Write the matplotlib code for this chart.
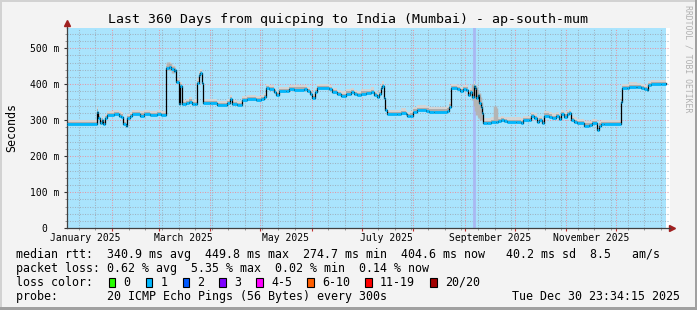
import numpy as np
import matplotlib
matplotlib.use("Agg")
import matplotlib.pyplot as plt
import matplotlib.dates as mdates
from matplotlib.patches import Rectangle
from datetime import datetime

# -----------------------------
# DATA
# -----------------------------
start = datetime(2025, 1, 4, 23, 34, 15)
end = datetime(2025, 12, 30, 23, 34, 15)

# days since start, median rtt in ms
rtt_days = [0, 17.8, 18.8, 19.8, 20.9, 21.8, 22.8, 24.2, 28.0, 31.3, 32.6, 33.5, 35.3, 36.1,
            37.7, 39.2, 43.9, 46.5, 49.9, 54.1, 56.5, 59.5, 61.3, 62.7, 64.3, 65.2, 65.8,
            67.3, 68.2, 68.9, 71.5, 73.3, 75.1, 76.9, 78.1, 79.3, 80.2, 81.1, 82.0, 85.9,
            90.0, 96.3, 97.8, 99.3, 102.3, 105.3, 108.4, 113.4, 116.4, 118.4, 119.8, 121.4,
            124.4, 125.6, 127.4, 131.4, 133.4, 136.4, 142.4, 144.4, 146.0, 147.4, 149.0,
            150.4, 157.5, 159.4, 162.1, 164.5, 167.5, 170.5, 172.5, 174.5, 176.5, 179.5,
            182.5, 184.5, 186.1, 187.5, 188.9, 189.5, 190.5, 191.1, 192.1, 198.5, 200.5,
            203.5, 204.5, 206.1, 208.1, 210.5, 215.6, 217.5, 220.6, 228.5, 229.6, 230.6,
            234.6, 236.2, 238.2, 239.6, 241.0, 242.2, 243.6, 244.6, 245.2, 246.0, 247.0,
            247.8, 248.6, 249.6, 250.2, 252.6, 254.6, 257.6, 259.0, 260.6, 262.6, 264.6,
            269.7, 272.7, 274.3, 277.6, 279.0, 280.6, 282.3, 283.7, 285.6, 286.7, 289.7,
            291.7, 293.7, 295.7, 297.1, 298.7, 300.7, 301.7, 302.7, 304.7, 306.7, 310.7,
            313.7, 315.7, 318.7, 319.7, 321.1, 322.7, 333.1, 333.7, 336.7, 337.7, 341.8,
            342.7, 344.8, 346.8, 348.4, 349.2, 350.8, 356.8, 359.8, 360.0]
rtt_median = [289, 324, 306, 292, 300, 290, 305, 315, 316, 313, 310, 290, 283, 306,
              312, 316, 313, 317, 314, 317, 315, 444, 449, 442, 438, 440, 405,
              344, 395, 345, 348, 352, 345, 346, 404, 426, 430, 404, 348, 347,
              341, 347, 359, 344, 342, 356, 358, 356, 358, 365, 389, 386,
              378, 370, 381, 381, 387, 385, 386, 380, 372, 361, 378,
              389, 387, 378, 372, 368, 374, 378, 372, 370, 374, 375,
              379, 370, 364, 372, 389, 396, 361, 329, 317, 317, 321,
              317, 312, 313, 324, 329, 327, 324, 324, 327, 338, 389,
              387, 380, 386, 385, 370, 378, 364, 396, 389, 361, 370,
              347, 338, 319, 293, 293, 296, 296, 298, 300, 297, 296,
              296, 293, 301, 301, 312, 307, 296, 301, 292, 313, 310,
              307, 312, 304, 317, 310, 317, 319, 301, 296, 292, 285,
              287, 292, 272, 285, 289, 290, 352, 389, 389, 393, 393,
              391, 389, 386, 384, 398, 400, 400, 404, 404]

# wider smoke spots
smoke_days = [60.5, 62.0, 64.0, 244.2, 245.0, 245.8, 246.6, 247.4, 248.2, 249.0, 257.4, 257.9]
smoke_lo = [440, 440, 432, 355, 340, 325, 315, 310, 305, 300, 296, 296]
smoke_hi = [462, 460, 452, 400, 398, 392, 385, 375, 365, 350, 340, 335]

month_labels = ["January 2025", "March 2025", "May 2025", "July 2025",
                "September 2025", "November 2025"]
label_months = [1, 3, 5, 7, 9, 11]

rtt_stats = [340.9, 449.8, 274.7, 404.6, 40.2]
am_s = 8.5
loss_stats = [0.62, 5.35, 0.02, 0.14]
loss_labels = ["0", "1", "2", "3", "4-5", "6-10", "11-19", "20/20"]
loss_colors = ["#26ff00", "#00b8ff", "#0059ff", "#7e00ff", "#ff00ff",
               "#ff5e00", "#ff0000", "#a10000"]

title = "Last 360 Days from quicping to India (Mumbai) - ap-south-mum"
MONO = "DejaVu Sans Mono"

# -----------------------------
# FIGURE
# -----------------------------
W, H = 697, 310
fig = plt.figure(figsize=(W / 100, H / 100), dpi=100, facecolor="#f3f3f3")

ax = fig.add_axes([67 / W, (H - 228.3) / H, (670 - 67) / W, (228.3 - 27.7) / H])
ax.set_facecolor("white")
x0 = mdates.date2num(start)
x1 = mdates.date2num(end)
ax.set_xlim(x0, x1 + 2.4)
ax.set_ylim(0, 557)
ax.axvspan(x0, x1, color="#aae4fd", lw=0, zorder=0.1)

# grid
month_starts = mdates.date2num([datetime(2025, m, 1) for m in range(2, 13)])
ax.set_xticks(month_starts)
ax.set_xticks(np.arange(mdates.date2num(datetime(2025, 1, 12)), x1, 10), minor=True)
ax.set_xticklabels([])
# rrdtool pads the unit-less zero label with blanks
ax.set_yticks(range(0, 501, 100), ["0  "] + [f"{v} m" for v in range(100, 501, 100)])
ax.set_yticks([v for v in range(20, 557, 20) if v % 100], minor=True)
ax.grid(which="major", color="#e29aa8", ls=(0, (1, 1.4)), lw=0.75)
ax.grid(which="minor", color="#9fb3c2", ls=(0, (1, 1.4)), lw=0.75)
ax.set_axisbelow(True)

ax.tick_params(axis="x", which="major", color="#c03030", length=2.2, width=0.8)
ax.tick_params(axis="x", which="minor", color="#999999", length=1.5, width=0.7)
ax.tick_params(axis="y", which="major", color="#333333", length=2.2, width=0.8,
               pad=3.2, labelsize=7.06)
ax.tick_params(axis="y", which="minor", color="#999999", length=1.5, width=0.7)
for lab in ax.get_yticklabels():
    lab.set_family(MONO)

for s in ["top", "right"]:
    ax.spines[s].set_visible(False)
for s in ["left", "bottom"]:
    ax.spines[s].set_color("#404040")
    ax.spines[s].set_linewidth(0.9)

# axis arrows
ax.plot([0, 0], [1, 1.02], transform=ax.transAxes, clip_on=False, color="#404040", lw=0.9)
ax.plot(0, 1.024, marker="^", ms=4, color="#a02020", transform=ax.transAxes, clip_on=False)
ax.plot(1.004, 0, marker=">", ms=4, color="#a02020", transform=ax.transAxes, clip_on=False)

for m, t in zip(label_months, month_labels):
    ax.text(mdates.date2num(datetime(2025, m, 16)), -0.047, t,
            transform=ax.get_xaxis_transform(), ha="center", va="center",
            fontsize=7.06, family=MONO)

# highlighted day
ax.axvline(x0 + 244.6, color="#a9b8f2", lw=2.0, zorder=0.6)

# smoke + median
xd = x0 + np.array(rtt_days)
md = np.array(rtt_median, dtype=float)
ax.fill_between(xd, md - 4, md + 12, step="post", color="#d4d4d4", lw=0, zorder=2)
ax.fill_between(xd, md - 2, md + 6, step="post", color="#acacac", lw=0, zorder=2.1)
ax.vlines(x0 + np.array(smoke_days), smoke_lo, smoke_hi, color="#b4b4b4", lw=2.5, zorder=2)
ax.step(xd, md, where="post", color="black", lw=0.9, zorder=3)
ax.hlines(md[:-1], xd[:-1], xd[1:], color="#00b8ff", lw=2.0, zorder=4)

# -----------------------------
# TEXT OVERLAY
# -----------------------------
ov = fig.add_axes([0, 0, 1, 1], facecolor="none")
ov.set_xlim(0, W)
ov.set_ylim(H, 0)
ov.axis("off")

# frame
ov.add_patch(Rectangle((0, 0), W, 2, color="#d2d2d2", lw=0))
ov.add_patch(Rectangle((0, 0), 2, H, color="#d2d2d2", lw=0))
ov.add_patch(Rectangle((0, H - 3), W, 3, color="#a0a0a0", lw=0))
ov.add_patch(Rectangle((W - 2, 0), 2, H, color="#a0a0a0", lw=0))

ov.text(347.5, 19, title, ha="center", va="center", fontsize=9.57, family=MONO)
ov.text(12, 127, "Seconds", rotation=90, ha="center", va="center", fontsize=8.4, family=MONO)
ov.text(688, 5, "RRDTOOL / TOBI OETIKER", rotation=270, ha="center", va="top",
        fontsize=5.9, family=MONO, color="#b0b0b0")

a, mx, mn, now, sd = rtt_stats
row1 = (f"median rtt:  {a:.1f} ms avg  {mx:.1f} ms max  {mn:.1f} ms min  "
        f"{now:.1f} ms now  {sd:5.1f} ms sd  {am_s:.1f}   am/s")
la, lmx, lmn, lnow = loss_stats
row2 = f"packet loss: {la:.2f} % avg  {lmx:.2f} % max  {lmn:.2f} % min  {lnow:.2f} % now"
row4 = "probe:       20 ICMP Echo Pings (56 Bytes) every 300s"

for y, s in [(254.3, row1), (268.3, row2), (282.3, "loss color:"), (296.3, row4)]:
    ov.text(16.3, y, s, ha="left", va="center", fontsize=8.4, family=MONO)

bx = 108.7
for lab, col in zip(loss_labels, loss_colors):
    ov.add_patch(Rectangle((bx, 278.3), 6.6, 8.2, facecolor=col, edgecolor="black", lw=0.8))
    ov.text(bx + 14.6, 282.3, lab, ha="left", va="center", fontsize=8.4, family=MONO)
    bx += 14.6 + len(lab) * 7.03 + 15.3

ov.text(680, 296.3, "Tue Dec 30 23:34:15 2025", ha="right", va="center",
        fontsize=8.4, family=MONO)

fig.savefig("out.png", dpi=100, facecolor=fig.get_facecolor())
